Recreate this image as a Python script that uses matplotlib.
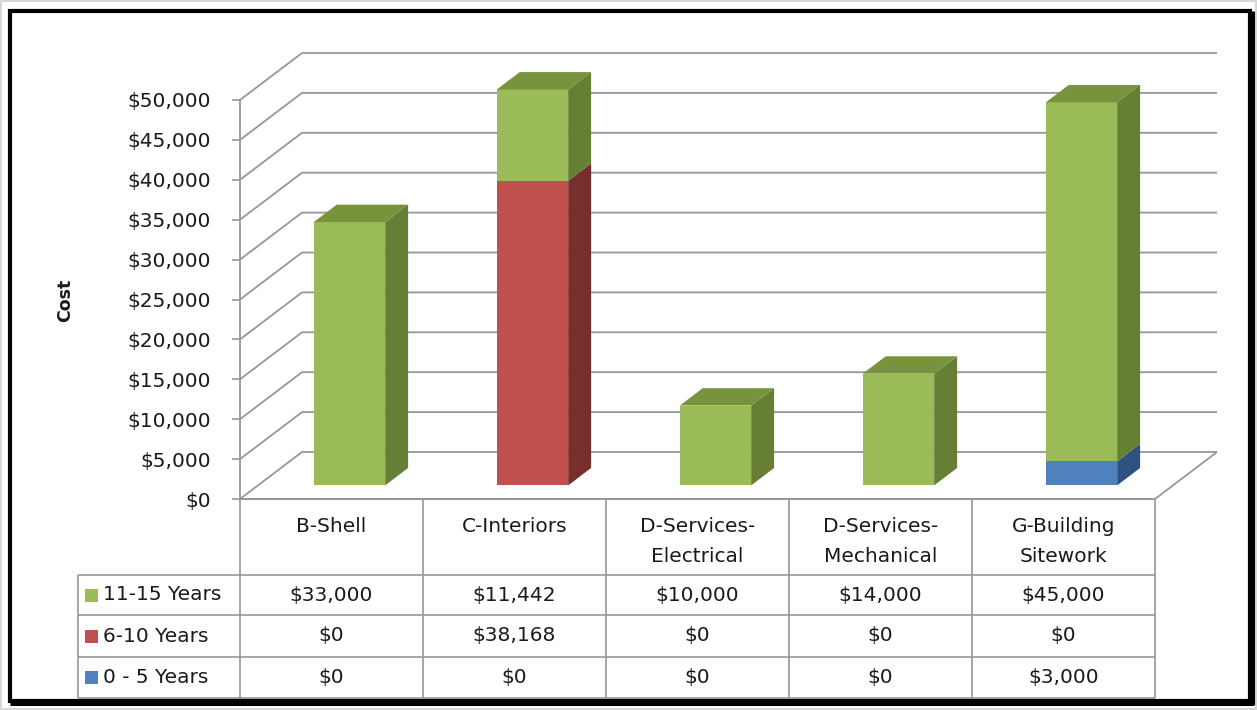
import numpy as np
import matplotlib
matplotlib.use("Agg")
import matplotlib.pyplot as plt
from matplotlib.patches import Polygon, Rectangle
from matplotlib.lines import Line2D
from matplotlib.transforms import IdentityTransform, offset_copy
from matplotlib.ticker import FuncFormatter

# ---- data -------------------------------------------------------------
categories = ["B-Shell", "C-Interiors", "D-Services-\nElectrical",
              "D-Services-\nMechanical", "G-Building\nSitework"]
series_names = ["11-15 Years", "6-10 Years", "0 - 5 Years"]
years_11_15 = [33000, 11442, 10000, 14000, 45000]
years_6_10 = [0, 38168, 0, 0, 0]
years_0_5 = [0, 0, 0, 0, 3000]
y_ticks = list(range(0, 50001, 5000))

# ---- style ------------------------------------------------------------
W, H = 1257, 710
plt.rcParams['font.family'] = ['DejaVu Sans']
TEXT = "#1a1a1a"
GRID = "#979797"
FS = 14.5
front_col = {"11-15 Years": "#9BBB59", "6-10 Years": "#C0504D", "0 - 5 Years": "#4F81BD"}
side_col = {"11-15 Years": "#667F35", "6-10 Years": "#772E2C", "0 - 5 Years": "#2E5180"}
top_col = {"11-15 Years": "#77933C", "6-10 Years": "#943634", "0 - 5 Years": "#376092"}

DEPTH = np.array([62.0, 47.0])   # pixel offset of the back wall
D_FRONT, D_BACK = 0.29, 0.66     # bar depth span (fraction of wall depth)
BAR_W = 0.39

fig = plt.figure(figsize=(W / 100, H / 100), dpi=100)
fig.patch.set_facecolor("white")

ax = fig.add_axes([240 / W, (H - 499) / H, 915 / W, 399 / H])
ax.set_xlim(-0.5, len(categories) - 0.5)
ax.set_ylim(0, 50000)
ax.patch.set_visible(False)
for s in ("top", "right", "bottom"):
    ax.spines[s].set_visible(False)
ax.spines["left"].set_color(GRID)
ax.spines["left"].set_linewidth(1.3)
ax.set_xticks([])
ax.set_yticks(y_ticks)
ax.yaxis.set_major_formatter(FuncFormatter(lambda v, _: f"${v:,.0f}"))
ax.tick_params(axis="y", length=6, width=1.2, color=GRID, pad=15,
               labelsize=FS, labelcolor=TEXT)

ID = IdentityTransform()


def proj(x, v, d):
    px, py = ax.transData.transform((x, v))
    return (px + d * DEPTH[0], py + d * DEPTH[1])


def seg(pts, color=GRID, lw=1.3, z=1):
    xs, ys = zip(*pts)
    ax.add_line(Line2D(xs, ys, transform=ID, color=color, lw=lw,
                       clip_on=False, zorder=z, solid_capstyle="butt"))


x_lo, x_hi = -0.5, len(categories) - 0.5

# back wall gridlines with the side-wall diagonals
for v in y_ticks:
    seg([proj(x_lo, v, 0), proj(x_lo, v, 1), proj(x_hi, v, 1)])
# floor edges
seg([proj(x_lo, 0, 0), proj(x_hi, 0, 0), proj(x_hi, 0, 1)])

# ---- stacked 3-D bars -------------------------------------------------
stack = [("0 - 5 Years", years_0_5), ("6-10 Years", years_6_10),
         ("11-15 Years", years_11_15)]
front_tr = offset_copy(ax.transData, fig, x=D_FRONT * DEPTH[0],
                       y=D_FRONT * DEPTH[1], units="dots")
xs = np.arange(len(categories))
bottom = np.zeros(len(categories))
for name, vals in stack:
    vals = np.asarray(vals, dtype=float)
    ax.bar(xs, vals, bottom=bottom, width=BAR_W, color=front_col[name],
           transform=front_tr, clip_on=False, zorder=3, linewidth=0)
    for i in range(len(categories)):
        if vals[i] <= 0:
            continue
        b, t = bottom[i], bottom[i] + vals[i]
        x1 = i + BAR_W / 2
        side = [proj(x1, b, D_FRONT), proj(x1, t, D_FRONT),
                proj(x1, t, D_BACK), proj(x1, b, D_BACK)]
        ax.add_patch(Polygon(side, closed=True, transform=ID, clip_on=False,
                             facecolor=side_col[name], edgecolor="none", zorder=3))
    bottom = bottom + vals

# top caps on the highest segment of every bar
totals = bottom
for i in range(len(categories)):
    name = None
    for nm, vals in stack:
        if vals[i] > 0:
            name = nm
    x0, x1 = i - BAR_W / 2, i + BAR_W / 2
    t = totals[i]
    cap = [proj(x0, t, D_FRONT), proj(x1, t, D_FRONT),
           proj(x1, t, D_BACK), proj(x0, t, D_BACK)]
    ax.add_patch(Polygon(cap, closed=True, transform=ID, clip_on=False,
                         facecolor=top_col[name], edgecolor="none", zorder=4))

# ---- axis title -------------------------------------------------------
fig.text(65 / W, 1 - 300 / H, "Cost", rotation=90, ha="center", va="center",
         fontsize=12.5, fontweight="bold", color=TEXT)

# ---- data table -------------------------------------------------------
col_edges = [ax.transData.transform((e, 0))[0]
             for e in np.arange(len(categories) + 1) - 0.5]
row_tops = [499, 575, 615, 657, 698]   # pixel rows from the top
hdr_left = 78


def hline(x0, x1, ytop):
    seg([(x0, H - ytop), (x1, H - ytop)], lw=1.2, z=2)


def vline(x, y0, y1):
    seg([(x, H - y0), (x, H - y1)], lw=1.2, z=2)


hline(col_edges[0], col_edges[-1], row_tops[0])
for r in row_tops[1:]:
    hline(hdr_left, col_edges[-1], r)
for e in col_edges:
    vline(e, row_tops[0], row_tops[-1])
vline(hdr_left, row_tops[1], row_tops[-1])

centers = [(col_edges[i] + col_edges[i + 1]) / 2 for i in range(len(categories))]
for c, lab in zip(centers, categories):
    fig.text(c / W, 1 - 517 / H, lab, ha="center", va="top", fontsize=FS,
             color=TEXT, linespacing=1.75)

table_rows = [("11-15 Years", years_11_15), ("6-10 Years", years_6_10),
              ("0 - 5 Years", years_0_5)]
for r, (name, vals) in enumerate(table_rows):
    yc = (row_tops[r + 1] + row_tops[r + 2]) / 2
    ax.add_patch(Rectangle((85, H - yc - 6.5), 13, 13, transform=ID,
                           facecolor=front_col[name], edgecolor="none",
                           clip_on=False, zorder=2))
    fig.text(103 / W, 1 - yc / H, name, ha="left", va="center",
             fontsize=FS, color=TEXT)
    for c, v in zip(centers, vals):
        fig.text(c / W, 1 - yc / H, f"${v:,.0f}", ha="center", va="center",
                 fontsize=FS, color=TEXT)

# ---- chart border -----------------------------------------------------
ax.add_patch(Rectangle((1, 1), W - 2, H - 2, transform=ID, fill=False,
                       edgecolor="#cfcfcf", lw=1.2, clip_on=False, zorder=1))
ax.add_patch(Rectangle((10, H - 701), 1240, 690, transform=ID, fill=False,
                       edgecolor="black", lw=3.0, clip_on=False, zorder=6))
# slightly heavier lower and right edges
seg([(10, H - 703.5), (1252.5, H - 703.5), (1252.5, H - 11)],
    color="black", lw=2.2, z=6)

fig.savefig("out.png", dpi=100)
